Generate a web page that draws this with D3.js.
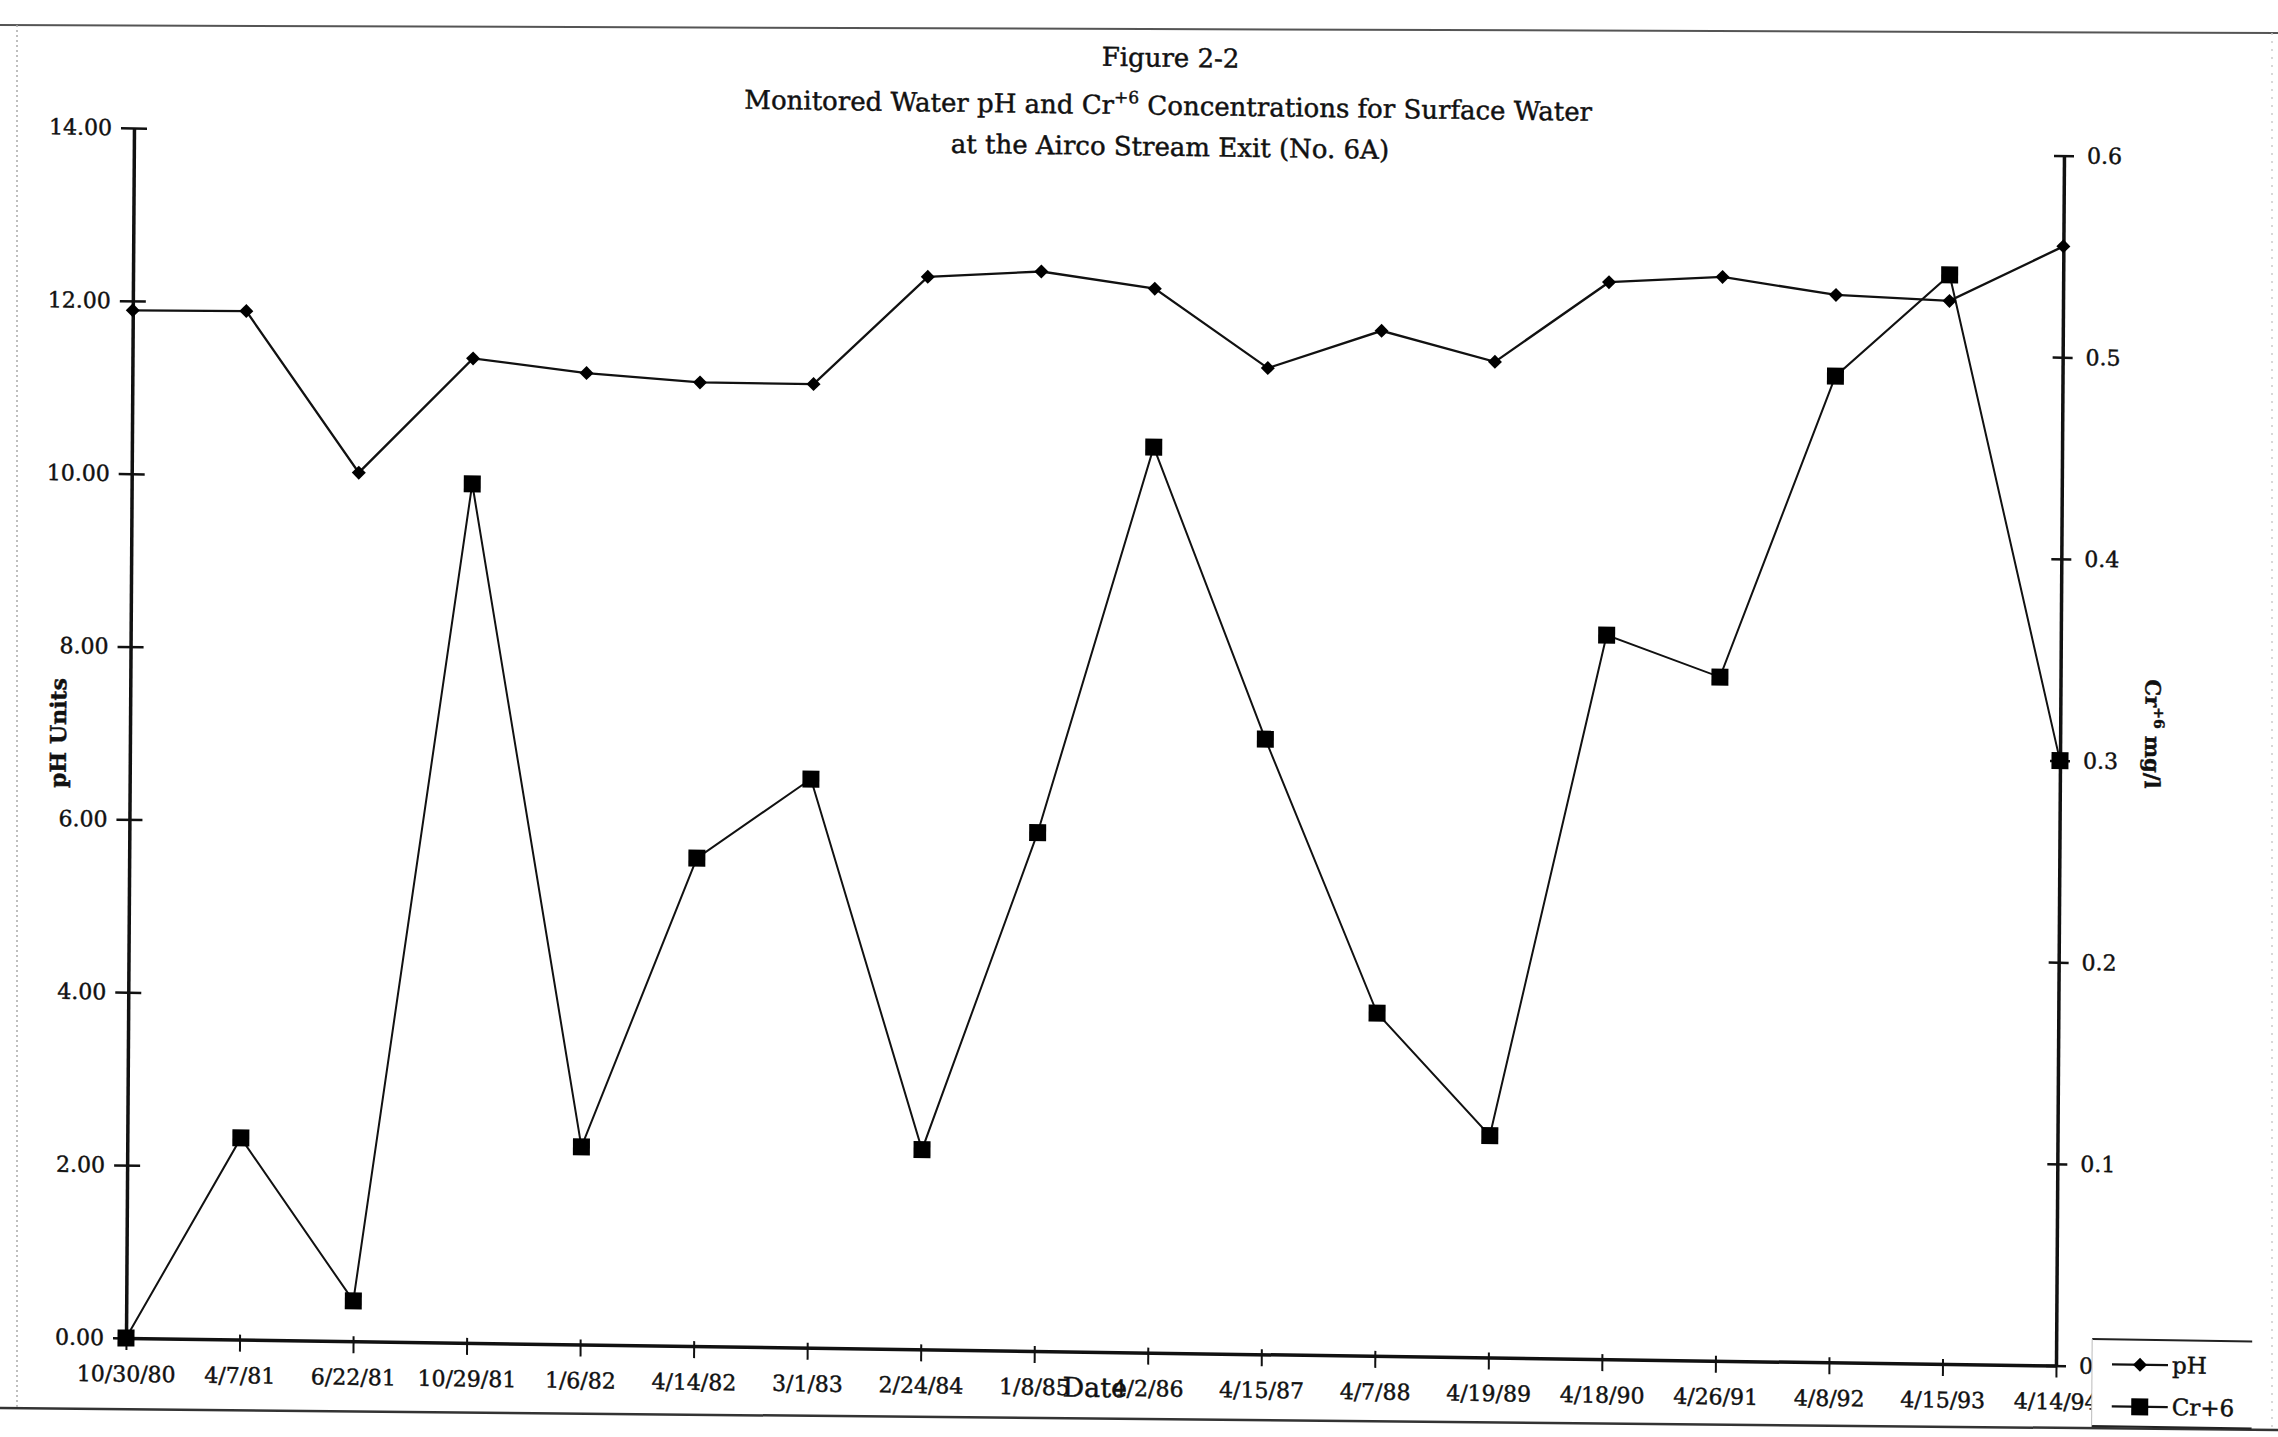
<!DOCTYPE html>
<html>
<head>
<meta charset="utf-8">
<script src="https://cdn.jsdelivr.net/npm/d3@7"></script>
<style>
    body { margin: 0; background: #fff; }
    text { font-family: "DejaVu Serif", serif; fill: #111; stroke: #111; stroke-width: 0.45px; }
</style>
</head>
<body>
<div id="chart"></div>
<script>
// sample dates (category axis)
const dates = ["10/30/80", "4/7/81", "6/22/81", "10/29/81", "1/6/82", "4/14/82", "3/1/83", "2/24/84", "1/8/85",
    "4/2/86", "4/15/87", "4/7/88", "4/19/89", "4/18/90", "4/26/91", "4/8/92", "4/15/93", "4/14/94"];

// pH (left axis)
const phValues = [11.89, 11.90, 10.05, 11.39, 11.24, 11.15, 11.15, 12.41, 12.49,
    12.31, 11.41, 11.86, 11.52, 12.46, 12.54, 12.35, 12.30, 12.95];

// Cr+6 mg/l (right axis)
const crValues = [0, 0.100, 0.020, 0.426, 0.098, 0.242, 0.282, 0.099, 0.257,
    0.449, 0.305, 0.170, 0.110, 0.359, 0.339, 0.489, 0.540, 0.300];

const phTicks = [0, 2, 4, 6, 8, 10, 12, 14];
const crTicks = [0, 0.1, 0.2, 0.3, 0.4, 0.5, 0.6];

const width = 2278, height = 1437;
const axisLeft = 126, axisRight = 2056, axisTop = 128, axisBottom = 1338;

const svg = d3.select("#chart")
    .append("svg")
    .attr("width", width)
    .attr("height", height)
    .style("background", "#fff");

// page border of the scanned sheet
svg.append("line").attr("x1", 0).attr("y1", 25).attr("x2", width).attr("y2", 33)
    .attr("stroke", "#555").attr("stroke-width", 2);
svg.append("line").attr("x1", 0).attr("y1", 1408).attr("x2", width).attr("y2", 1430)
    .attr("stroke", "#333").attr("stroke-width", 2.5);
svg.append("line").attr("x1", 17).attr("y1", 25).attr("x2", 17).attr("y2", 1408)
    .attr("stroke", "#aaa").attr("stroke-width", 1.5).attr("stroke-dasharray", "2,3");
svg.append("line").attr("x1", 2272).attr("y1", 33).attr("x2", 2272).attr("y2", 1430)
    .attr("stroke", "#ccc").attr("stroke-width", 1.5).attr("stroke-dasharray", "2,6");

// the scan is a bit skewed, so the whole figure is sheared slightly
const page = svg.append("g")
    .attr("transform", `translate(${axisLeft},${axisBottom}) matrix(1,0.0143,-0.0066,1,0,0) translate(${-axisLeft},${-axisBottom})`);

// Scales
const xScale = d3.scalePoint().domain(dates).range([axisLeft, axisRight]);
const yPh = d3.scaleLinear().domain([0, 14]).range([axisBottom, axisTop]);
const yCr = d3.scaleLinear().domain([0, 0.6]).range([axisBottom, axisTop]);

// Title
const title = page.append("g").attr("text-anchor", "middle").style("font-size", "26px");
title.append("text").attr("x", 1162).attr("y", 52).text("Figure 2-2");
const t2 = title.append("text").attr("x", 1160).attr("y", 100);
t2.append("tspan").text("Monitored Water pH and Cr");
t2.append("tspan").attr("dy", -11).style("font-size", "17px").text("+6");
t2.append("tspan").attr("dy", 11).text(" Concentrations for Surface Water");
title.append("text").attr("x", 1162).attr("y", 141).text("at the Airco Stream Exit (No. 6A)");

// x axis
const xAxisG = page.append("g")
    .attr("transform", `translate(0, ${axisBottom})`)
    .call(d3.axisBottom(xScale).tickSize(12).tickSizeOuter(0).tickPadding(16));
xAxisG.select(".domain").attr("stroke", "#111").attr("stroke-width", 3.5);
xAxisG.selectAll(".tick line").attr("y1", -5).attr("stroke", "#111").attr("stroke-width", 2);
xAxisG.selectAll(".tick text").style("font-size", "22px").style("font-family", "DejaVu Serif").attr("fill", "#111");

// left axis
const yAxisG = page.append("g")
    .attr("transform", `translate(${axisLeft}, 0)`)
    .call(d3.axisLeft(yPh).tickValues(phTicks).tickFormat(d3.format(".2f")).tickSize(13).tickSizeOuter(0).tickPadding(9));
yAxisG.select(".domain").attr("stroke", "#111").attr("stroke-width", 3.5);
yAxisG.selectAll(".tick line").attr("x1", 13).attr("stroke", "#111").attr("stroke-width", 2.5);
yAxisG.selectAll(".tick text").style("font-size", "22px").style("font-family", "DejaVu Serif").attr("fill", "#111");

// right axis
const y2AxisG = page.append("g")
    .attr("transform", `translate(${axisRight}, 0)`)
    .call(d3.axisRight(yCr).tickValues(crTicks).tickFormat(d => d === 0 ? "0" : d3.format(".1f")(d)).tickSize(10).tickSizeOuter(0).tickPadding(13));
y2AxisG.select(".domain").attr("stroke", "#111").attr("stroke-width", 3.5);
y2AxisG.selectAll(".tick line").attr("x1", -10).attr("stroke", "#111").attr("stroke-width", 2.5);
y2AxisG.selectAll(".tick text").style("font-size", "22px").style("font-family", "DejaVu Serif").attr("fill", "#111");

// axis titles
page.append("text")
    .attr("transform", "translate(62, 734) rotate(-90)")
    .attr("text-anchor", "middle")
    .style("font-size", "22px").style("font-weight", "bold")
    .text("pH Units");

const crLabel = page.append("text")
    .attr("transform", "translate(2141, 705) rotate(90)")
    .attr("text-anchor", "middle")
    .style("font-size", "21px").style("font-weight", "bold");
crLabel.append("tspan").text("Cr");
crLabel.append("tspan").attr("dy", -9).style("font-size", "14px").text("+6");
crLabel.append("tspan").attr("dy", 9).text(" mg/l");

page.append("text")
    .attr("x", 1095).attr("y", 1383)
    .attr("text-anchor", "middle")
    .style("font-size", "27px")
    .text("Date");

// lines
const phLine = d3.line().x((d, i) => xScale(dates[i])).y(d => yPh(d));
const crLine = d3.line().x((d, i) => xScale(dates[i])).y(d => yCr(d));

page.append("path").datum(crValues)
    .attr("d", crLine).attr("fill", "none").attr("stroke", "#111").attr("stroke-width", 2);
page.append("path").datum(phValues)
    .attr("d", phLine).attr("fill", "none").attr("stroke", "#111").attr("stroke-width", 2.3);

const diamond = "M0,-7L7,0L0,7L-7,0Z";
const sq = 17;

page.selectAll(".crPoint").data(crValues).enter()
    .append("rect").attr("class", "crPoint")
    .attr("x", (d, i) => xScale(dates[i]) - sq / 2)
    .attr("y", d => yCr(d) - sq / 2)
    .attr("width", sq).attr("height", sq)
    .attr("fill", "#000");

page.selectAll(".phPoint").data(phValues).enter()
    .append("path").attr("class", "phPoint")
    .attr("d", diamond)
    .attr("transform", (d, i) => `translate(${xScale(dates[i])}, ${yPh(d)})`)
    .attr("fill", "#000");

// legend
const legend = page.append("g");
legend.append("rect").attr("x", 2092).attr("y", 1311).attr("width", 160).attr("height", 87).attr("fill", "#fff");
legend.append("line").attr("x1", 2092).attr("y1", 1311).attr("x2", 2252).attr("y2", 1311).attr("stroke", "#222").attr("stroke-width", 2);
legend.append("line").attr("x1", 2092).attr("y1", 1398).attr("x2", 2252).attr("y2", 1398).attr("stroke", "#222").attr("stroke-width", 2);
legend.append("line").attr("x1", 2092).attr("y1", 1311).attr("x2", 2092).attr("y2", 1398).attr("stroke", "#bbb").attr("stroke-width", 1);

const legendItems = [
    { label: "pH", y: 1336, marker: "diamond" },
    { label: "Cr+6", y: 1378, marker: "square" }
];
legendItems.forEach(item => {
    legend.append("line").attr("x1", 2112).attr("x2", 2168).attr("y1", item.y).attr("y2", item.y)
        .attr("stroke", "#111").attr("stroke-width", 2.3);
    if (item.marker === "diamond") {
        legend.append("path").attr("d", diamond).attr("transform", `translate(2140, ${item.y})`).attr("fill", "#000");
    } else {
        legend.append("rect").attr("x", 2140 - sq / 2).attr("y", item.y - sq / 2).attr("width", sq).attr("height", sq).attr("fill", "#000");
    }
    legend.append("text").attr("x", 2172).attr("y", item.y + 8).style("font-size", "23px").text(item.label);
});
</script>
</body>
</html>
